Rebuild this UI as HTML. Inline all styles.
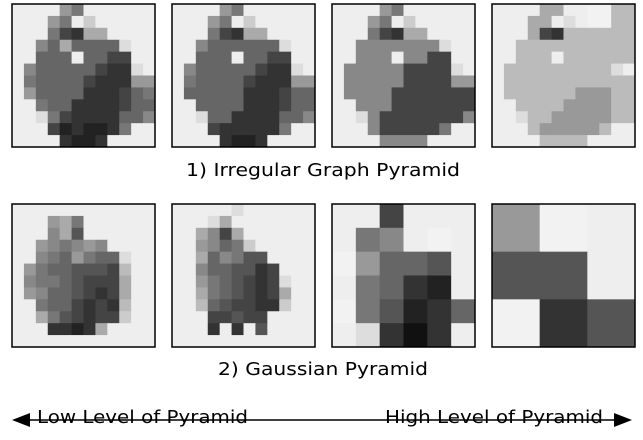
<!DOCTYPE html>
<html><head><meta charset="utf-8"><style>
html,body{margin:0;padding:0;background:#fff;width:643px;height:440px;overflow:hidden}
text{font-family:"DejaVu Sans","Liberation Sans",sans-serif;fill:#000}
</style></head><body>
<svg id="fig" width="643" height="440" viewBox="0 0 643 440" xmlns="http://www.w3.org/2000/svg">
<g id="imgs"></g>
<text x="186" y="176" font-size="18" textLength="274" lengthAdjust="spacingAndGlyphs">1) Irregular Graph Pyramid</text>
<text x="218" y="375" font-size="18" textLength="210" lengthAdjust="spacingAndGlyphs">2) Gaussian Pyramid</text>
<g>
<line x1="22" y1="420" x2="622" y2="420" stroke="#000" stroke-width="1.5"/>
<polygon points="12,420 30,413 30,427" fill="#000"/>
<polygon points="632,420 614,413 614,427" fill="#000"/>
</g>
<text x="37" y="423" font-size="18" textLength="211" lengthAdjust="spacingAndGlyphs">Low Level of Pyramid</text>
<text x="385" y="423" font-size="18" textLength="218" lengthAdjust="spacingAndGlyphs">High Level of Pyramid</text>
</svg>
<script>
const ig1=["EEEE97EEEEEE","EEE97ECEEEEE","EEE743AAEEEE","EE86A6666DEE","EE666E6644EE","E866666433DE","E76666433399","E96666333467","EE7663333466","EED743333668","EEE4232237EE","EEEE3223EEEE"];
const ig2=["EEEE97EEEEEE","EEE97ECEEEEE","EEE743AAEEEE","EE8666666DEE","EE666E6644EE","E866666433DE","E76666433399","E66666333466","EE6666333466","EED663333668","EEE4333337EE","EEEE3223EEEE"];
const ig3=["EEEE97EEEEEE","EEE97ECEEEEE","EEE743AAEEEE","EE8888888DEE","EE888E8844EE","E888884444DE","E88888444499","E88884444444","EE8884444444","EED844444448","EEE8444447EE","EEEE8888EEEE"];
const ig4=["EEEEAAEEFFBB","EEEAAEDEFFBB","EEEA43BBBBBB","EEBBBBBBBBBB","EEBBBEBBBBBB","EBBBBBBBBBDE","EBBBBBBBBBBB","EBBBBBB999BB","EEBBBB9999BB","EEDBB99999BB","EEEB99999BEE","EEEEBBBBEEEE"];
const gp1=["EEEEEEEEEEEE","EEE9A7EEEEEE","EEE8A5EEEEEE","EE987898EEEE","EE8769766DEE","E97665554BEE","E87765444AEE","E98665434AEE","EE7664343BEE","EEA754344CEE","EEE3323AEEEE","EEEEEEEEEEEE"];
const gp2=["EEEEEDEEEEEE","EEEDAEEEEEEE","EEA84AEEEEEE","EE9867CEEEEE","EEA68755EEEE","EE8665534EEE","EE9765434DEE","EEA765434AEE","EEB654433CEE","EEE44544EEEE","EEE3E3E5EEEE","EEEEEEEEEEEE"];
const gp3=["EE4EEE","E78EFE","F9665E","E7632E","F75236","ED313E"];
const gp4=["9FE","55E","F35"];
const grids=[ig1,ig2,ig3,ig4,gp1,gp2,gp3,gp4];
const ns="http://www.w3.org/2000/svg";
const g=document.getElementById('imgs');
const xs=[12,172,332,492], ys=[4,204], S=143;
grids.forEach((gr,i)=>{
  const x0=xs[i%4], y0=ys[Math.floor(i/4)], n=gr.length, c=S/n;
  const grp=document.createElementNS(ns,'g');
  
  
  gr.forEach((row,r)=>{[...row].forEach((ch,k)=>{
    const v=Math.min(parseInt(ch,16)*17,242);
    const rc=document.createElementNS(ns,'rect');
    
    
    rc.setAttribute('x',x0+k*c);rc.setAttribute('y',y0+r*c);
    rc.setAttribute('width',c+0.5);rc.setAttribute('height',c+0.5);
    rc.setAttribute('fill',`rgb(${v},${v},${v})`);
    grp.appendChild(rc);
  });});
  const b=document.createElementNS(ns,'rect');
  
  
  b.setAttribute('x',x0);b.setAttribute('y',y0);b.setAttribute('width',S);b.setAttribute('height',S);
  b.setAttribute('fill','none');b.setAttribute('stroke','#000');b.setAttribute('stroke-width','1.5');
  grp.appendChild(b);
  g.appendChild(grp);
});
</script>
</body></html>
